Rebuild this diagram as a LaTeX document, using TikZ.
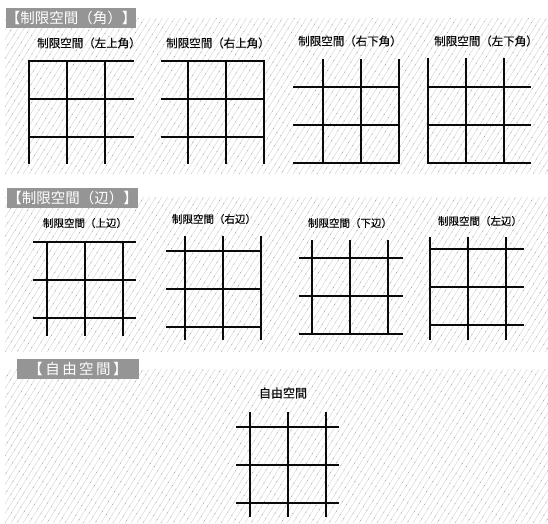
\documentclass[tikz,border=0pt]{standalone}
\usepackage{fontspec}
\setmainfont{Noto Sans CJK JP}
\newfontfamily\capfont{Noto Sans CJK JP}[FakeBold=0.6]
\usepackage{tikz}
\definecolor{hatchgray}{HTML}{DADADA}
\definecolor{dotgray}{HTML}{A8A8A8}
\definecolor{headgray}{HTML}{959595}
\definecolor{inkblack}{HTML}{0A0A0A}

% diagonal hatching of one panel: x1,y1,x2,y2
\newcommand\hatcharea[4]{%
  \begin{scope}
    \clip (#1,#2) rectangle (#3,#4);
    \foreach \k in {-18,...,92}{
      \pgfmathsetmacro\ph{mod(\k*5,13)}
      \draw[hatch] ({#1+6*\k},#4) -- ++(100,-160);
      \draw[hatchdot, dash phase=\ph pt] ({#1+6*\k},#4) -- ++(100,-160);
    }
  \end{scope}}

% 3x3 grid: x0,y0,left,right,top,bottom overhang
\newcommand\gridlines[6]{%
  \foreach \i in {0,1,2}{
    \draw[gridline] ({#1-#3},{#2+38*\i}) -- ({#1+76+#4},{#2+38*\i});
    \draw[gridline] ({#1+38*\i},{#2-#5}) -- ({#1+38*\i},{#2+76+#6});
  }}

\begin{document}
\begin{tikzpicture}[x=1pt,y=-1pt,
  hatch/.style={draw=hatchgray, line width=0.5pt},
  hatchdot/.style={draw=dotgray, line width=0.8pt, dash pattern=on 0.7pt off 11pt},
  gridline/.style={draw=inkblack, line width=1.7pt, line cap=rect},
  header/.style={fill=headgray, text=white, minimum width=122pt,
    minimum height=20pt, inner sep=0pt, font=\fontsize{14.5pt}{16pt}\selectfont},
  caption/.style={text=inkblack, inner sep=0pt, font=\capfont\fontsize{11.5pt}{13pt}\selectfont},
  smallcap/.style={caption, font=\capfont\fontsize{10.5pt}{12pt}\selectfont}]
  \useasboundingbox[fill=white] (0,0) rectangle (548,523);

  \hatcharea{5}{18}{548}{174}
  \hatcharea{5}{197}{548}{352}
  \hatcharea{5}{369}{548}{523}

  \node[header] (hcorner) at (71,17.5) {【制限空間（角）】};
  \node[header] (hedge)   at (72.5,197.5) {【制限空間（辺）】};
  \node[header] (hfree)   at (78,368.5) {【\,自\,由\,空\,間\,】};

  % corners
  \node[caption] (tl) at (89,43)  {制限空間（左上角）};
  \node[caption] (tr) at (218,43) {制限空間（右上角）};
  \node[caption] (br) at (350,41) {制限空間（右下角）};
  \node[caption] (bl) at (486,41) {制限空間（左下角）};
  \gridlines{29}{61}{0}{28}{0}{26}
  \gridlines{188}{61}{26}{0}{0}{26}
  \gridlines{323}{87}{29}{0}{27}{0}
  \gridlines{428}{87}{0}{26}{28}{0}

  % edges
  \node[smallcap] (et) at (85,223)  {制限空間（上辺）};
  \node[smallcap] (er) at (214,219) {制限空間（右辺）};
  \node[smallcap] (eb) at (350,223) {制限空間（下辺）};
  \node[smallcap] (el) at (480,221) {制限空間（左辺）};
  \gridlines{47}{242}{13}{12}{0}{17}
  \gridlines{185}{251}{18}{0}{14}{12}
  \gridlines{312}{258}{12}{14}{17}{0}
  \gridlines{430}{249}{0}{17}{11}{14}

  % free
  \node[caption, font=\capfont\fontsize{12pt}{14pt}\selectfont] (free) at (283,393) {自由空間};
  \gridlines{250}{427}{13}{12}{14}{13}
\end{tikzpicture}
\end{document}
